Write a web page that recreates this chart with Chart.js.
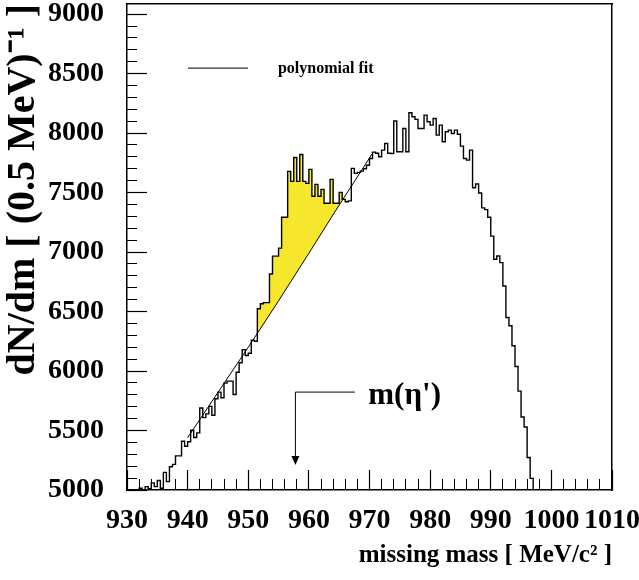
<!DOCTYPE html>
<html>
<head>
<meta charset="utf-8">
<script src="https://cdn.jsdelivr.net/npm/chart.js@4.4.0/dist/chart.umd.min.js"></script>
<style>
  html, body { margin: 0; padding: 0; background: #fff; }
</style>
</head>
<body>
<canvas id="myChart" width="639" height="580"></canvas>
<script>
// histogram: 0.5 MeV bins, first bin starts at 931.5 MeV
const massStart = 931.5;
const binWidth = 0.5;
const counts = [
  4960, 5015, 4990, 5028, 5010, 5060, 5028, 5080, 5015, 5148,
  5070, 5195, 5215, 5287, 5287, 5410, 5368, 5405, 5502, 5441,
  5480, 5689, 5608, 5640, 5703, 5628, 5767, 5823, 5775, 5898,
  5915, 5915, 5803, 5990, 6070, 6180, 6130, 6150, 6260, 6250,
  6523, 6565, 6575, 6575, 6816, 6966, 6966, 7033, 7293, 7293,
  7678, 7594, 7795, 7594, 7820, 7594, 7577, 7695, 7469, 7569,
  7469, 7527, 7410, 7410, 7611, 7410, 7410, 7502, 7443, 7423,
  7430, 7703, 7661, 7670, 7680, 7700, 7730, 7787, 7840, 7830,
  7801, 7857, 7913, 7830, 7829, 8101, 7843, 7843, 8039, 7843,
  8171, 8137, 8115, 8039, 8039, 8151, 8095, 8067, 8123, 7983,
  8067, 7927, 8011, 8025, 7997, 8025, 7990, 7890, 7787, 7773,
  7857, 7540, 7572, 7497, 7371, 7357, 7293, 7134, 6939, 6967,
  6911, 6715, 6450, 6381, 6213, 6038, 5831, 5613, 5530, 5273,
  5098, 4950
];

// polynomial fit
const fitMass  = [940, 945, 950, 955, 960, 965, 970.5];
const fitValue = [5440, 5820, 6200, 6590, 6990, 7395, 7830];

// shaded excess (yellow)
const shadeFrom = 951.5;
const shadeTo = 966;

const etaMass = 957.78; // m(eta')

// axes
const xMin = 930, xMax = 1010;
const yMin = 5000, yMax = 9085;
const xTickValues = [930, 940, 950, 960, 970, 980, 990, 1000, 1010];
const yTickValues = [5000, 5500, 6000, 6500, 7000, 7500, 8000, 8500, 9000];
const xMinorStep = 2, yMinorStep = 100;

// build datasets
let histPts = counts.map(function(c, i){ return {x: massStart + i * binWidth, y: c}; });
histPts.push({x: massStart + counts.length * binWidth, y: counts[counts.length - 1]});

let shadePts = histPts.filter(function(p){ return p.x >= shadeFrom && p.x < shadeTo; });
shadePts.push({x: shadeTo, y: shadePts[shadePts.length - 1].y});

let fitPts = fitMass.map(function(m, i){ return {x: m, y: fitValue[i]}; });

const serif = '"Liberation Serif", "Times New Roman", serif';

function sizeX(h){ return function(s){ s.height = h; s.paddingLeft = 0; s.paddingRight = 0; }; }
function sizeY(w){ return function(s){ s.width = w; s.paddingTop = 0; s.paddingBottom = 0; }; }
function fixedTicks(vals){ return function(s){ s.ticks = vals.map(function(v){ return {value: v}; }); }; }
function plain(v){ return String(v); }

// legend + eta' marker
const extras = {
  id: 'extras',
  afterDatasetsDraw(chart) {
    const ctx = chart.ctx;
    const x = chart.scales.x, y = chart.scales.y;
    ctx.save();
    ctx.strokeStyle = '#000';
    ctx.fillStyle = '#000';
    ctx.lineWidth = 1;

    let ly = y.getPixelForValue(8546);
    ctx.beginPath();
    ctx.moveTo(x.getPixelForValue(940.07), ly);
    ctx.lineTo(x.getPixelForValue(949.97), ly);
    ctx.stroke();
    ctx.font = 'bold 16px ' + serif;
    ctx.textBaseline = 'middle';
    ctx.fillText('polynomial fit', x.getPixelForValue(954.9), ly + 1);

    let ax = x.getPixelForValue(etaMass);
    let top = y.getPixelForValue(5823);
    let tip = y.getPixelForValue(5210);
    ctx.beginPath();
    ctx.moveTo(x.getPixelForValue(967.6), top);
    ctx.lineTo(ax, top);
    ctx.lineTo(ax, tip - 8);
    ctx.stroke();
    ctx.beginPath();
    ctx.moveTo(ax - 4, tip - 9);
    ctx.lineTo(ax + 4, tip - 9);
    ctx.lineTo(ax, tip);
    ctx.closePath();
    ctx.fill();

    ctx.font = 'bold 31px ' + serif;
    ctx.fillText("m(\u03b7')", x.getPixelForValue(969.8), y.getPixelForValue(5790));
    ctx.restore();
  }
};

new Chart(document.getElementById('myChart'), {
  type: 'line',
  data: {
    datasets: [
      {
        label: 'data',
        data: histPts,
        xAxisID: 'x', yAxisID: 'y',
        stepped: true,
        borderColor: '#000',
        borderWidth: 1.4,
        pointRadius: 0,
        fill: false,
        order: 0
      },
      {
        label: 'polynomial fit',
        data: fitPts,
        xAxisID: 'x', yAxisID: 'y',
        borderColor: '#000',
        borderWidth: 1,
        pointRadius: 0,
        tension: 0,
        fill: false,
        order: 1
      },
      {
        label: 'excess',
        data: shadePts,
        xAxisID: 'x', yAxisID: 'y',
        stepped: true,
        borderWidth: 0,
        borderColor: 'rgba(0,0,0,0)',
        pointRadius: 0,
        fill: {target: 1, above: '#f6e62c', below: 'rgba(0,0,0,0)'},
        order: 2
      }
    ]
  },
  options: {
    responsive: false,
    animation: false,
    layout: {padding: {top: 4, right: 27, left: 0, bottom: 0}},
    plugins: {legend: {display: false}, tooltip: {enabled: false}},
    scales: {
      x: {
        type: 'linear', position: 'bottom', weight: 1,
        min: xMin, max: xMax,
        afterBuildTicks: fixedTicks(xTickValues),
        ticks: {autoSkip: false, color: '#000', padding: 34, maxRotation: 0, callback: plain,
                font: {family: serif, size: 28, weight: 'bold'}},
        grid: {drawOnChartArea: false, tickLength: -20, color: '#000', tickWidth: 1.2},
        border: {color: '#000', width: 1.5},
        title: {display: true, text: 'missing mass [ MeV/c\u00b2 ]', align: 'end', color: '#000',
                padding: {top: 0, bottom: 9}, font: {family: serif, size: 25, weight: 'bold'}},
        afterFit: sizeX(90)
      },
      xMinor: {
        type: 'linear', position: 'bottom', weight: 0,
        min: xMin, max: xMax,
        ticks: {display: false, stepSize: xMinorStep, autoSkip: false},
        grid: {drawOnChartArea: false, tickLength: -11, color: '#000', tickWidth: 1},
        border: {display: false},
        afterFit: sizeX(0)
      },
      xTop: {
        type: 'linear', position: 'top',
        min: xMin, max: xMax,
        ticks: {display: false}, grid: {display: false},
        border: {color: '#000', width: 1.5},
        afterFit: sizeX(0)
      },
      y: {
        type: 'linear', position: 'left', weight: 1,
        min: yMin, max: yMax,
        afterBuildTicks: fixedTicks(yTickValues),
        ticks: {autoSkip: false, color: '#000', padding: 43, callback: plain,
                font: {family: serif, size: 28, weight: 'bold'}},
        grid: {drawOnChartArea: false, tickLength: -20, color: '#000', tickWidth: 1.2},
        border: {color: '#000', width: 1.5},
        title: {display: true, text: 'dN/dm [ (0.5 MeV)\u207b\u00b9 ]', align: 'end', color: '#000',
                padding: {top: 0, bottom: 0}, font: {family: serif, size: 40, weight: 'bold'}},
        afterFit: sizeY(127)
      },
      yMinor: {
        type: 'linear', position: 'left', weight: 0,
        min: yMin, max: yMax,
        ticks: {display: false, stepSize: yMinorStep, includeBounds: false, autoSkip: false},
        grid: {drawOnChartArea: false, tickLength: -10, color: '#000', tickWidth: 1},
        border: {display: false},
        afterFit: sizeY(0)
      },
      yRight: {
        type: 'linear', position: 'right',
        min: yMin, max: yMax,
        ticks: {display: false}, grid: {display: false},
        border: {color: '#000', width: 1.5},
        afterFit: sizeY(0)
      }
    }
  },
  plugins: [extras]
});
</script>
</body>
</html>
